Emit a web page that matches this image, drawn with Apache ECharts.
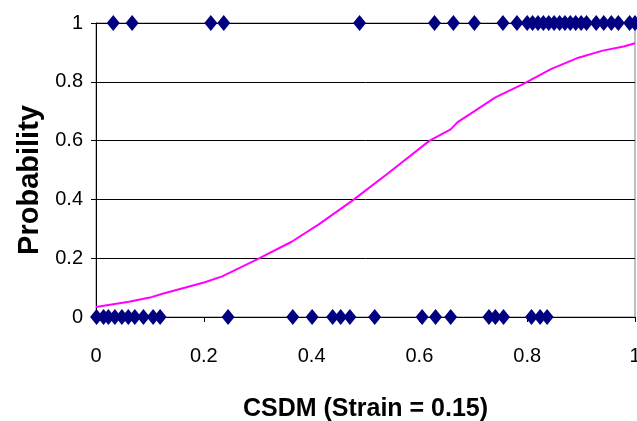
<!DOCTYPE html>
<html>
<head>
<meta charset="utf-8">
<script src="https://cdn.jsdelivr.net/npm/echarts@6/dist/echarts.min.js"></script>
<style>
html,body{margin:0;padding:0;background:#fff;}
#c{width:637px;height:421px;}
</style>
</head>
<body>
<div id="c"></div>
<script>
// Observed outcomes at probability 0 (CSDM values)
var zeroX = [0.001, 0.014, 0.023, 0.035, 0.048, 0.060, 0.072, 0.088, 0.106, 0.119,
             0.245, 0.365, 0.401, 0.439, 0.454, 0.471, 0.517, 0.605, 0.630, 0.658,
             0.729, 0.741, 0.756, 0.808, 0.824, 0.837];
// Observed outcomes at probability 1 (CSDM values)
var oneX = [0.032, 0.067, 0.213, 0.237, 0.489, 0.628, 0.663, 0.702, 0.755, 0.781,
            0.800, 0.810, 0.820, 0.830, 0.840, 0.850, 0.860, 0.870, 0.880, 0.890,
            0.900, 0.910, 0.928, 0.942, 0.956, 0.969, 0.990, 1.000];
// Fitted probability curve
var curveX = [0, 0.061, 0.100, 0.125, 0.202, 0.234, 0.298, 0.363, 0.414, 0.475, 0.542,
              0.619, 0.658, 0.671, 0.703, 0.741, 0.793, 0.844, 0.895, 0.940, 0.979, 1.0];
var curveY = [0.034, 0.052, 0.066, 0.080, 0.118, 0.138, 0.195, 0.256, 0.316, 0.395, 0.489,
              0.600, 0.638, 0.663, 0.701, 0.747, 0.793, 0.843, 0.882, 0.906, 0.920, 0.931];
var xTitle = 'CSDM (Strain = 0.15)';
var yTitle = 'Probability';

var FONT = '"Liberation Sans", Arial, sans-serif';
var chart = echarts.init(document.getElementById('c'), null, {renderer: 'canvas'});
var pts = [];
zeroX.forEach(function (x) { pts.push([x, 0]); });
oneX.forEach(function (x) { pts.push([x, 1]); });
var curve = curveX.map(function (x, i) { return [x, curveY[i]]; });

chart.setOption({
  animation: false,
  backgroundColor: '#ffffff',
  grid: {left: 96, right: 2, top: 23, bottom: 104, containLabel: false, outerBoundsMode: 'none',
         show: true, borderColor: '#808080', borderWidth: 1, backgroundColor: 'transparent'},
  xAxis: {
    type: 'value', min: 0, max: 1, interval: 0.2,
    name: xTitle, nameLocation: 'middle', nameGap: 80,
    nameTextStyle: {fontFamily: FONT, fontSize: 25, fontWeight: 'bold', color: '#000'},
    axisLine: {show: true, lineStyle: {color: '#000', width: 1}},
    axisTick: {show: true, length: 5, lineStyle: {color: '#000'}},
    axisLabel: {fontFamily: FONT, fontSize: 20, color: '#000', margin: 29},
    splitLine: {show: false}
  },
  yAxis: {
    type: 'value', min: 0, max: 1, interval: 0.2,
    name: yTitle, nameLocation: 'middle', nameGap: 50,
    nameTextStyle: {fontFamily: FONT, fontSize: 29, fontWeight: 'bold', color: '#000', padding: [0, 20, 0, 0]},
    axisLine: {show: true, lineStyle: {color: '#000', width: 1}},
    axisTick: {show: true, length: 5, lineStyle: {color: '#000'}},
    axisLabel: {fontFamily: FONT, fontSize: 20, color: '#000', margin: 13},
    splitLine: {show: true, lineStyle: {color: '#000', width: 1}}
  },
  series: [
    {
      type: 'line', data: curve, showSymbol: false, symbol: 'none', smooth: false,
      lineStyle: {color: '#ff00ff', width: 2}, z: 2
    },
    {
      type: 'scatter', data: pts, symbol: 'diamond', symbolSize: [13, 16], clip: false,
      itemStyle: {color: '#000080', opacity: 1}, z: 3
    }
  ]
});
</script>
</body>
</html>
